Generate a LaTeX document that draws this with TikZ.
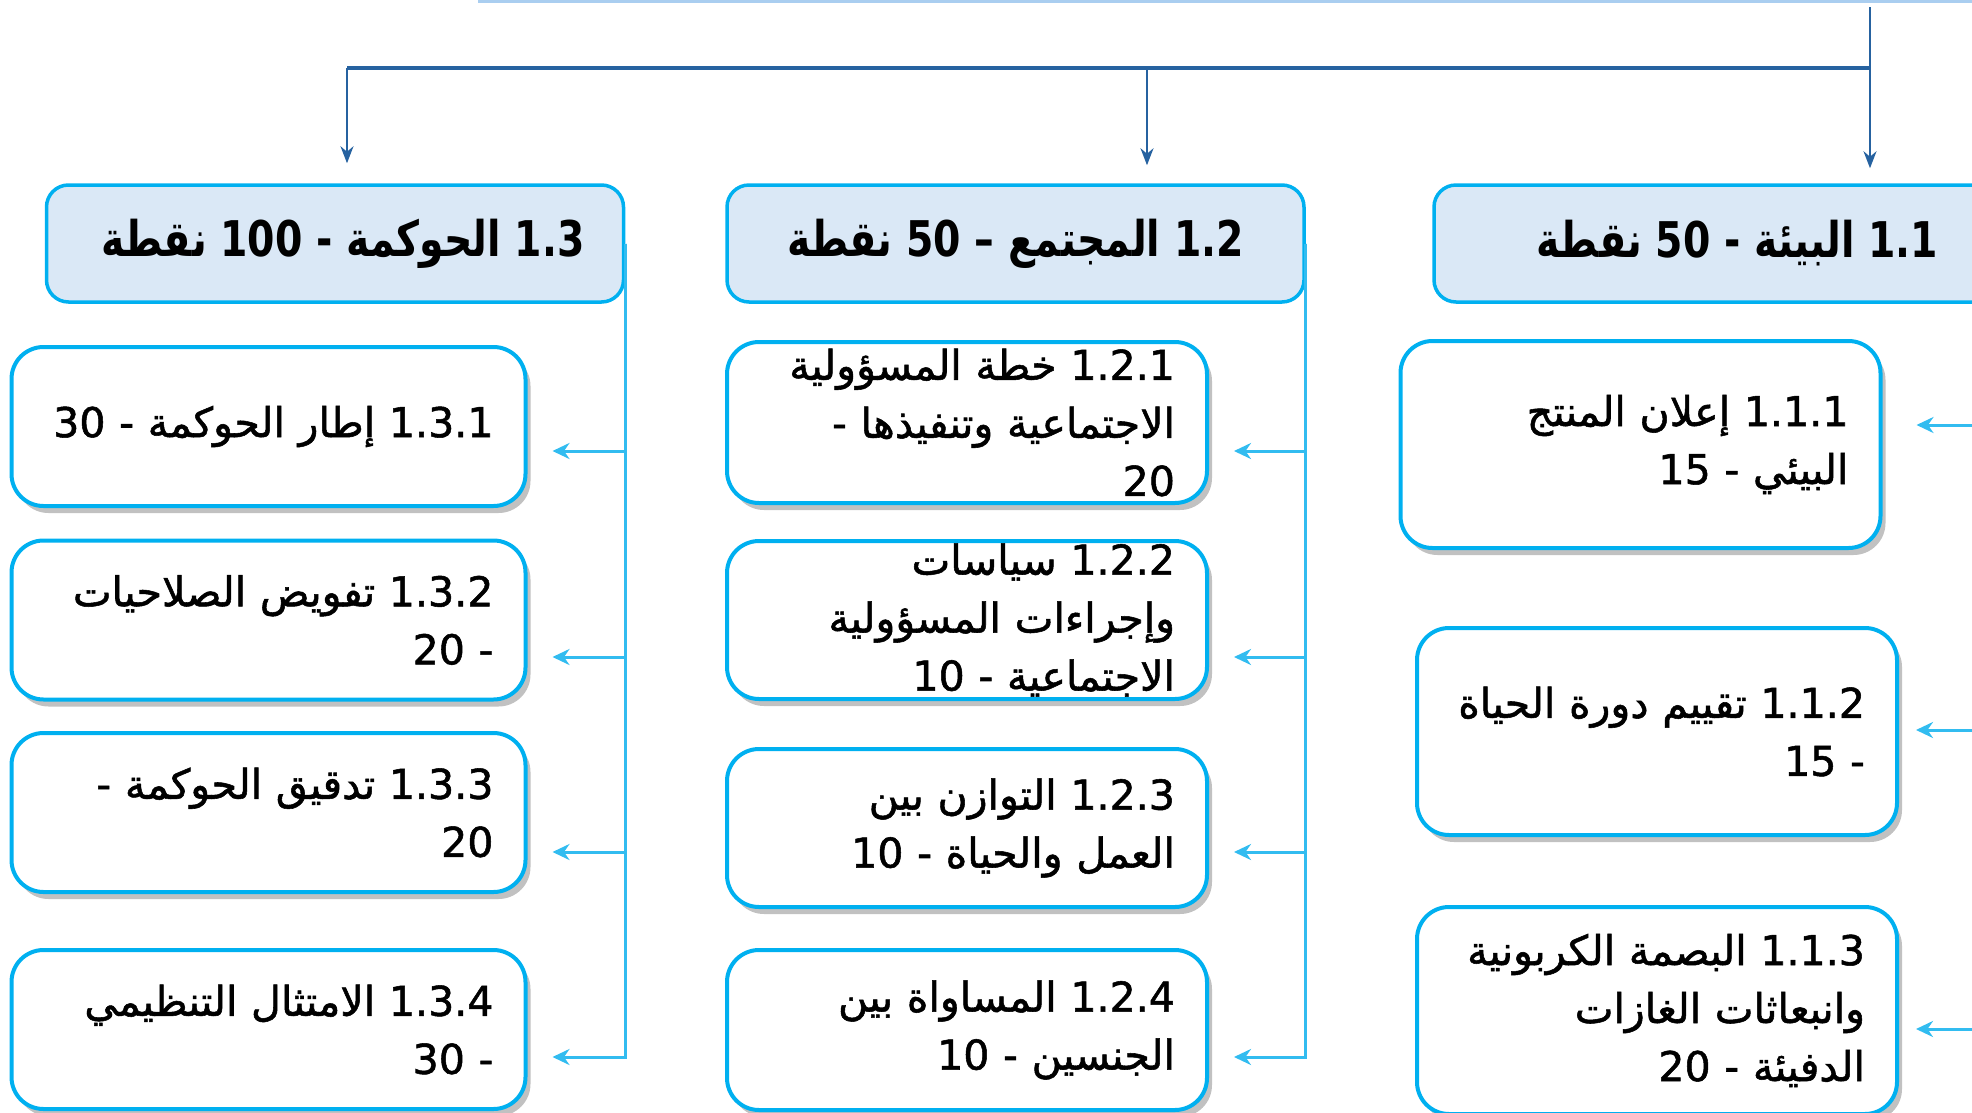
\documentclass[tikz,border=0pt]{standalone}
\usepackage{fontspec}
\usepackage{tikz}
\usetikzlibrary{arrows.meta}
\usetikzlibrary{shadows}
\TeXXeTstate=1
\newfontfamily\arabicfont[Script=Arabic,FakeBold=1.3]{DejaVu Sans}
\newfontfamily\headfont[Script=Arabic,FakeStretch=0.8]{DejaVu Sans Bold}
\definecolor{boxline}{RGB}{0,176,240}
\definecolor{headfill}{RGB}{218,232,246}
\definecolor{feedline}{RGB}{50,188,240}
\definecolor{trunk}{RGB}{38,98,160}
\definecolor{titlebar}{RGB}{170,206,240}
\newcommand{\rtl}[1]{\beginR #1\endR}

\tikzset{
  head/.style={draw=boxline,line width=0.35mm,fill=headfill,rounded corners=2.2mm,
    minimum width=57.7mm,minimum height=11.7mm,inner sep=0pt,
    font=\headfont\fontsize{14}{17}\selectfont},
  item/.style={draw=boxline,line width=0.4mm,fill=white,rounded corners=3.2mm,
    drop shadow={shadow xshift=0.5mm,shadow yshift=-0.7mm,opacity=0.35,fill=black!70},
    inner xsep=3.2mm,inner ysep=0pt,align=right,
    font=\arabicfont\fontsize{11.7}{16.5}\selectfont},
  wide/.style={item,text width=45mm,minimum height=15.9mm},
  narrow/.style={item,text width=41.6mm,minimum height=#1},
  trunkline/.style={draw=trunk,line width=0.22mm},
  trunkarrow/.style={trunkline,-{Stealth[length=1.7mm,width=1.3mm]}},
  feed/.style={draw=feedline,line width=0.3mm,-{Stealth[length=1.7mm,width=1.6mm]}},
}

\begin{document}
\begin{tikzpicture}[x=0.1mm,y=-0.1mm]
\useasboundingbox (0,0) rectangle (1972,1113);
\clip (0,0) rectangle (1972,1113);

\fill[titlebar] (478,-20) rectangle (1990,3);

% headers
\node[head] (h13) at (335,243.5) {\hspace*{1.6mm}\rtl{1.3 الحوكمة - 100 نقطة}};
\node[head] (h12) at (1015.5,243.5) {\rtl{1.2 المجتمع – 50 نقطة}};
\node[head] (h11) at (1722.5,243.5) {\hspace*{3mm}\rtl{1.1 البيئة - 50 نقطة}};

% governance
\node[wide] (b131) at (268.5,426.5) {\rtl{1.3.1 إطار الحوكمة - 30}};
\node[wide] (b132) at (268.5,620) {\rtl{1.3.2 تفويض الصلاحيات}\\\rtl{- 20}};
\node[wide] (b133) at (268.5,812.5) {\rtl{1.3.3 تدقيق الحوكمة -}\\\rtl{20}};
\node[wide] (b134) at (268.5,1029.5) {\rtl{1.3.4 الامتثال التنظيمي}\\\rtl{- 30}};

% society
\node[narrow=16.1mm] (b121) at (967,422.5) {\rtl{1.2.1 خطة المسؤولية}\\\rtl{الاجتماعية وتنفيذها -}\\\rtl{20}};
\node[narrow=15.8mm] (b122) at (967,620) {\rtl{1.2.2 سياسات}\\\rtl{وإجراءات المسؤولية}\\\rtl{الاجتماعية - 10}};
\node[narrow=15.8mm] (b123) at (967,828) {\rtl{1.2.3 التوازن بين}\\\rtl{العمل والحياة - 10}};
\node[narrow=16mm] (b124) at (967,1030) {\rtl{1.2.4 المساواة بين}\\\rtl{الجنسين - 10}};

% environment
\node[narrow=20.7mm] (b111) at (1640.5,444.5) {\rtl{1.1.1 إعلان المنتج}\\\rtl{البيئي - 15}};
\node[narrow=20.7mm] (b112) at (1657,731.5) {\rtl{1.1.2 تقييم دورة الحياة}\\\rtl{- 15}};
\node[narrow=20.7mm] (b113) at (1657,1010.5) {\rtl{1.1.3 البصمة الكربونية}\\\rtl{وانبعاثات الغازات}\\\rtl{الدفيئة - 20}};

\coordinate (top) at (1870,7);
\coordinate (bar) at (1870,68);
\coordinate (j13) at (347,68);
\coordinate (j12) at (1147,68);
\draw[trunkline] (top) -- (bar);
\draw[trunkline,line width=0.4mm] (bar) -- (j13);
\draw[trunkarrow,shorten >=2mm] (j13) -- (j13 |- h13.north);
\draw[trunkarrow,shorten >=1.8mm] (j12) -- (j12 |- h12.north);
\draw[trunkarrow,shorten >=1.5mm] (bar) -- (bar |- h11.north);

\foreach \b/\y in {b131/451,b132/657,b133/852,b134/1057}
  \draw[feed,shorten >=2.5mm] (h13.east) |- (\b.east |- 0,\y);
\foreach \b/\y in {b121/451,b122/657,b123/852,b124/1057}
  \draw[feed,shorten >=2.5mm] (h12.east) |- (\b.east |- 0,\y);
\foreach \b/\y/\g in {b111/425/3.4mm,b112/730/1.7mm,b113/1029/1.7mm}
  \draw[feed,shorten >=\g] (h11.east) |- (\b.east |- 0,\y);
\end{tikzpicture}
\end{document}
